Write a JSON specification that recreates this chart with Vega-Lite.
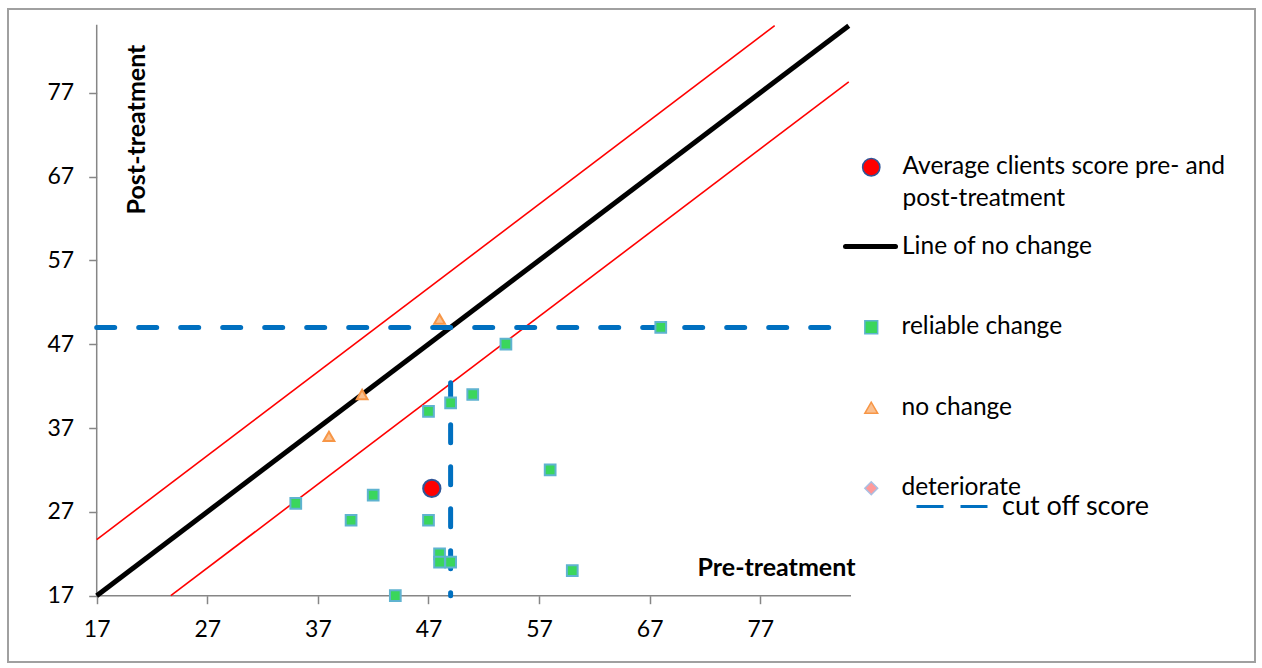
{
  "$schema": "https://vega.github.io/schema/vega-lite/v6.json",
  "width": 1247,
  "height": 653,
  "autosize": {"type": "none"},
  "padding": {"left": 8, "top": 9, "right": 7, "bottom": 6},
  "background": "white",
  "config": {
    "font": "Lato",
    "view": {"stroke": "#a0a0a0", "strokeWidth": 2},
    "style": {"guide-label": {"lineHeight": 32}},
    "axis": {
      "domain": false,
      "grid": false,
      "labelFont": "Lato",
      "labelFontSize": 23,
      "labelColor": "#000000",
      "tickColor": "#868686",
      "tickWidth": 1.5,
      "tickSize": 8,
      "labelPadding": 15,
      "titleFont": "Lato",
      "titleFontSize": 25,
      "titleFontWeight": "bold",
      "titleColor": "#000000"
    },
    "legend": {
      "labelFont": "Lato",
      "labelFontSize": 24.5,
      "labelColor": "#000000",
      "labelLimit": 0,
      "padding": 0
    }
  },
  "datasets": {
    "axes": [
      {"x": 17, "x2": 85.2, "y": 17, "y2": 17},
      {"x": 17, "x2": 17, "y": 17, "y2": 85.1}
    ],
    "bounds": [
      {"x": 17, "y": 23.7, "line": "upper"},
      {"x": 78.3, "y": 85, "line": "upper"},
      {"x": 23.7, "y": 17, "line": "lower"},
      {"x": 85, "y": 78.3, "line": "lower"}
    ],
    "nochange": [
      {"x": 17, "y": 17},
      {"x": 85, "y": 85}
    ],
    "cutoff": [
      {"x": 17, "x2": 85, "y": 49, "y2": 49},
      {"x": 49, "x2": 49, "y": 42.4, "y2": 17}
    ],
    "points": [
      {"x": 35, "y": 28, "group": "reliable change"},
      {"x": 40, "y": 26, "group": "reliable change"},
      {"x": 42, "y": 29, "group": "reliable change"},
      {"x": 44, "y": 17, "group": "reliable change"},
      {"x": 47, "y": 39, "group": "reliable change"},
      {"x": 47, "y": 26, "group": "reliable change"},
      {"x": 48, "y": 22, "group": "reliable change"},
      {"x": 48, "y": 21, "group": "reliable change"},
      {"x": 49, "y": 21, "group": "reliable change"},
      {"x": 49, "y": 40, "group": "reliable change"},
      {"x": 51, "y": 41, "group": "reliable change"},
      {"x": 54, "y": 47, "group": "reliable change"},
      {"x": 58, "y": 32, "group": "reliable change"},
      {"x": 60, "y": 20, "group": "reliable change"},
      {"x": 68, "y": 49, "group": "reliable change"},
      {"x": 38, "y": 36, "group": "no change"},
      {"x": 41, "y": 41, "group": "no change"},
      {"x": 48, "y": 50, "group": "no change"}
    ],
    "average": [
      {"x": 47.3, "y": 29.8}
    ]
  },
  "encoding": {
    "x": {
      "field": "x",
      "type": "quantitative",
      "scale": {"domain": [8.98, 121.73], "nice": false, "zero": false},
      "axis": {
        "orient": "bottom",
        "offset": -66.3,
        "values": [17, 27, 37, 47, 57, 67, 77],
        "title": "Pre-treatment",
        "titleX": 768,
        "titleY": -28.7,
        "titleAlign": "center",
        "titleBaseline": "middle"
      }
    },
    "y": {
      "field": "y",
      "type": "quantitative",
      "scale": {"domain": [9.091, 86.987], "nice": false, "zero": false},
      "axis": {
        "orient": "left",
        "offset": -88.7,
        "values": [17, 27, 37, 47, 57, 67, 77],
        "title": "Post-treatment",
        "titleAngle": 270,
        "titleX": 39.3,
        "titleY": 120,
        "titleAlign": "center",
        "titleBaseline": "middle"
      }
    }
  },
  "layer": [
    {
      "data": {"name": "axes"},
      "mark": {"type": "rule", "color": "#868686", "strokeWidth": 1.5},
      "encoding": {
        "x2": {"field": "x2"},
        "y2": {"field": "y2"}
      }
    },
    {
      "data": {"name": "nochange"},
      "mark": {"type": "line", "strokeWidth": 5, "strokeCap": "butt"},
      "encoding": {
        "color": {
          "datum": "Line of no change",
          "scale": {"range": ["#000000"]},
          "legend": {
            "orient": "none",
            "legendX": 835,
            "legendY": 210,
            "title": null,
            "symbolType": "stroke",
            "symbolSize": 2500,
            "symbolStrokeWidth": 5,
            "labelOffset": 4,
            "encode": {"symbols": {"update": {"strokeCap": {"value": "round"}}}}
          }
        }
      }
    },
    {
      "data": {"name": "bounds"},
      "mark": {"type": "line", "color": "#ff0000", "strokeWidth": 1.6},
      "encoding": {
        "detail": {"field": "line"}
      }
    },
    {
      "data": {"name": "cutoff"},
      "mark": {"type": "rule", "strokeWidth": 5, "strokeDash": [18, 24], "strokeCap": "round"},
      "encoding": {
        "x2": {"field": "x2"},
        "y2": {"field": "y2"},
        "color": {
          "datum": "cut off score",
          "scale": {"range": ["#0070c0"]},
          "legend": {
            "orient": "none",
            "legendX": 907,
            "legendY": 460,
            "title": null,
            "symbolType": "stroke",
            "symbolSize": 5184,
            "symbolStrokeWidth": 3,
            "symbolDash": [27, 17],
            "labelFontSize": 27,
            "labelOffset": 12
          }
        }
      }
    },
    {
      "data": {"name": "points"},
      "mark": {"type": "point", "filled": true, "size": 115, "strokeWidth": 2, "opacity": 1},
      "encoding": {
        "fill": {
          "field": "group",
          "type": "nominal",
          "scale": {"domain": ["reliable change", "no change", "deteriorate"], "range": ["#3ad65c", "#fac090", "#ff9a9a"]},
          "legend": {
            "orient": "none", "legendX": 851, "legendY": 306, "title": null,
            "symbolSize": 165, "labelOffset": 18, "rowPadding": 55.5,
            "encode": {"symbols": {"update": {"strokeWidth": {"value": 2}}}}
          }
        },
        "stroke": {
          "field": "group",
          "type": "nominal",
          "scale": {"domain": ["reliable change", "no change", "deteriorate"], "range": ["#5fb3d0", "#f79646", "#a9bfe3"]},
          "legend": {
            "orient": "none", "legendX": 851, "legendY": 306, "title": null,
            "symbolSize": 165, "labelOffset": 18, "rowPadding": 55.5,
            "encode": {"symbols": {"update": {"strokeWidth": {"value": 2}}}}
          }
        },
        "shape": {
          "field": "group",
          "type": "nominal",
          "scale": {"domain": ["reliable change", "no change", "deteriorate"], "range": ["square", "triangle-up", "diamond"]},
          "legend": {
            "orient": "none", "legendX": 851, "legendY": 306, "title": null,
            "symbolSize": 165, "labelOffset": 18, "rowPadding": 55.5,
            "encode": {"symbols": {"update": {"strokeWidth": {"value": 2}}}}
          }
        }
      }
    },
    {
      "data": {"name": "average"},
      "mark": {"type": "point", "filled": true, "size": 300, "stroke": "#2f5597", "strokeWidth": 2, "opacity": 1},
      "encoding": {
        "color": {
          "datum": "Average clients score pre- and post-treatment",
          "scale": {"range": ["#ff0000"]},
          "legend": {
            "orient": "none",
            "legendX": 851,
            "legendY": 146,
            "title": null,
            "symbolType": "circle",
            "symbolSize": 300,
            "labelOffset": 19,
            "labelExpr": "datum.label == 'Average clients score pre- and post-treatment' ? ['Average clients score pre- and', 'post-treatment'] : datum.label",
            "encode": {
              "symbols": {"update": {"stroke": {"value": "#2f5597"}, "strokeWidth": {"value": 2}}},
              "labels": {"update": {"lineHeight": {"value": 32}}}
            }
          }
        }
      }
    }
  ],
  "resolve": {
    "scale": {"color": "independent"},
    "legend": {"color": "independent"}
  }
}
